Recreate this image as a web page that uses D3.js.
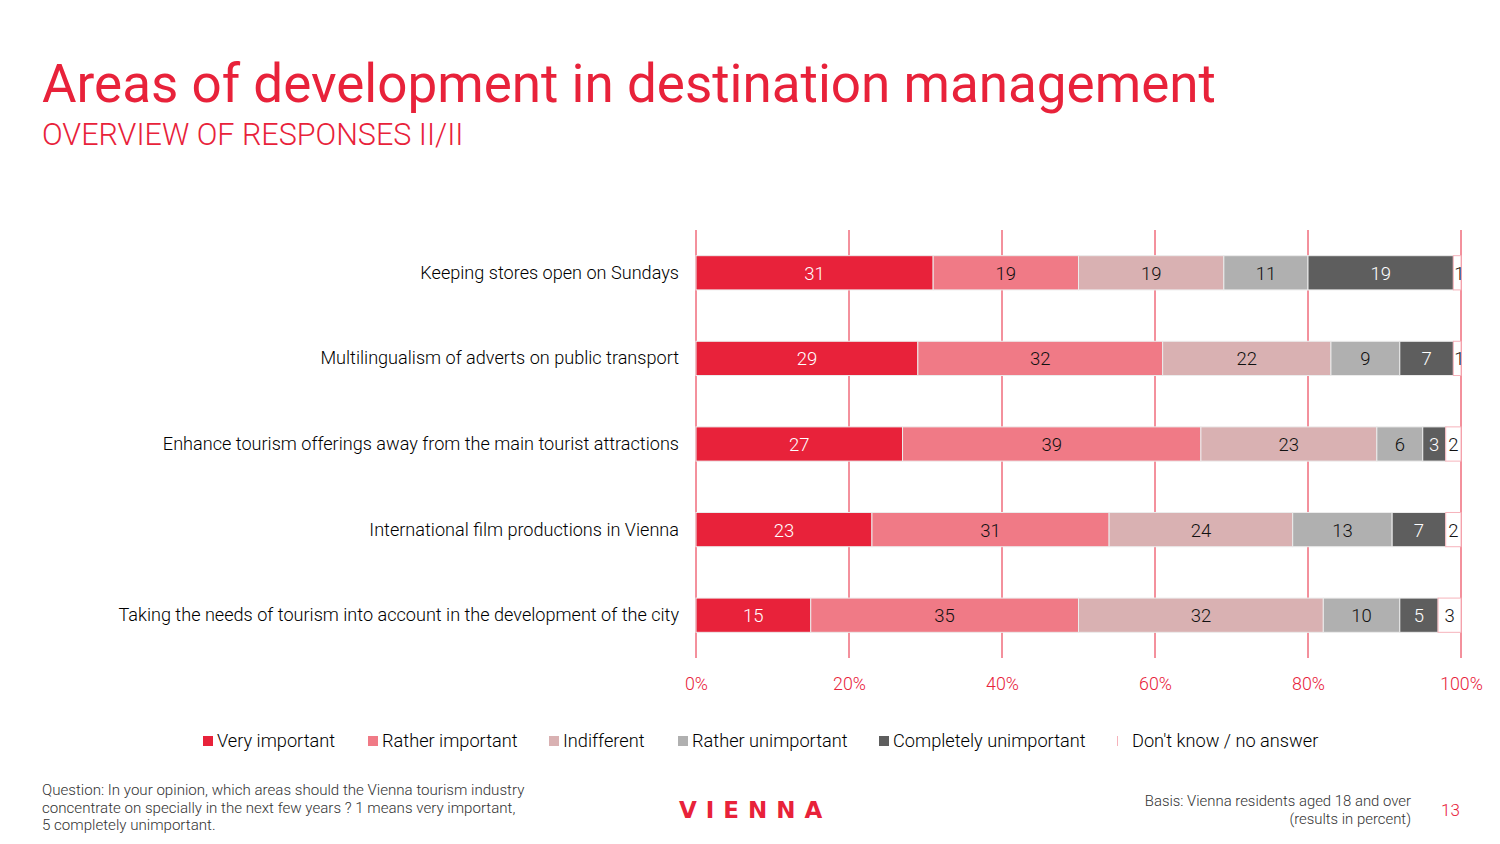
<!DOCTYPE html>
<html><head><meta charset="utf-8">
<script src="https://cdn.jsdelivr.net/npm/d3@7"></script>
<style>
body{margin:0;background:#fff;font-family:Roboto,"Noto Sans",sans-serif;}
svg{display:block}
svg text{font-weight:300;}
</style></head>
<body>
<svg id="c" width="1500" height="844"></svg>
<script>
const categories = [
  "Keeping stores open on Sundays",
  "Multilingualism of adverts on public transport",
  "Enhance tourism offerings away from the main tourist attractions",
  "International film productions in Vienna",
  "Taking the needs of tourism into account in the development of the city"
];
const seriesNames = ["Very important","Rather important","Indifferent","Rather unimportant","Completely unimportant","Don't know / no answer"];
const veryImportant = [31,29,27,23,15];
const ratherImportant = [19,32,39,31,35];
const indifferent = [19,22,23,24,32];
const ratherUnimportant = [11,9,6,13,10];
const completelyUnimportant = [19,7,3,7,5];
const dontKnow = [1,1,2,2,3];
const xTicks = [0,20,40,60,80,100];

const colors = ["#e8223a","#f07a86","#d9b1b2","#b0b0b0","#5e5e5e","#ffffff"];
const labelColors = ["#fff","#111","#111","#111","#fff","#111"];
const seriesValues = [veryImportant,ratherImportant,indifferent,ratherUnimportant,completelyUnimportant,dontKnow];

const svg = d3.select("#c");
const red = "#e8223a";

svg.append("text").attr("x",42).attr("y",102).attr("fill",red)
  .style("font-size","53px").style("font-weight","400").text("Areas of development in destination management");
svg.append("text").attr("x",42).attr("y",145).attr("fill",red)
  .style("font-size","30.5px").text("OVERVIEW OF RESPONSES II/II");

const x = d3.scaleLinear().domain([0,100]).range([696,1461]);
const y = d3.scaleBand().domain(categories).range([230,658]).paddingInner(0.6).paddingOuter(0.3);

// gridlines
svg.append("g").selectAll("line").data(xTicks).join("line")
  .attr("x1",d=>x(d)).attr("x2",d=>x(d)).attr("y1",230).attr("y2",658)
  .attr("stroke",red).attr("stroke-width",1);

// stack
const rows = categories.map((c,i)=>{const o={cat:c}; seriesNames.forEach((s,j)=>o[s]=seriesValues[j][i]); return o;});
const stack = d3.stack().keys(seriesNames)(rows);

const g = svg.append("g");
stack.forEach((layer,j)=>{
  const lg = g.append("g");
  lg.selectAll("rect").data(layer).join("rect")
    .attr("x",d=>x(d[0])).attr("width",d=>x(d[1])-x(d[0]))
    .attr("y",d=>y(d.data.cat)).attr("height",y.bandwidth())
    .attr("fill",colors[j])
    .attr("stroke", j===5 ? "#f6b3bb" : "#ececec").attr("stroke-width",1);
  lg.selectAll("text").data(layer).join("text")
    .attr("x",d=> (j===5 && (x(d[1])-x(d[0])) < 12) ? x(d[0])+1 : (x(d[0])+x(d[1]))/2)
    .attr("text-anchor",d=> (j===5 && (x(d[1])-x(d[0])) < 12) ? "start" : "middle")
    .attr("y",d=>y(d.data.cat)+y.bandwidth()/2+7)
    .attr("fill",labelColors[j])
    .style("font-size","18.5px")
    .text(d=>d.data[seriesNames[j]]);
});

// category labels
svg.append("g").selectAll("text").data(categories).join("text")
  .attr("x",679).attr("y",d=>y(d)+y.bandwidth()/2+6)
  .attr("text-anchor","end").attr("fill","#000").style("font-size","18.1px").text(d=>d);

// axis
const axis = svg.append("g").attr("transform","translate(0,658)")
  .call(d3.axisBottom(x).tickValues(xTicks).tickFormat(d=>d+"%").tickSize(0).tickPadding(19));
axis.select(".domain").remove();
axis.selectAll("text").attr("fill",red).style("font-size","17.8px").style("font-family","Roboto,sans-serif").style("font-weight","300");

// legend
const legX = [203,368,549,678,879,1117];
const leg = svg.append("g").selectAll("g").data(seriesNames).join("g")
  .attr("transform",(d,i)=>`translate(${legX[i]},741)`);
leg.append("rect").attr("x",0).attr("y",-5).attr("width",(d,i)=> i===5?1:10).attr("height",10)
  .attr("fill",(d,i)=> i===5 ? "#f6b3bb" : colors[i]);
leg.append("text").attr("x",(d,i)=> i===5 ? 15 : 14).attr("y",6).attr("fill","#000")
  .style("font-size","18.2px").text(d=>d);

// footer
const q = ["Question: In your opinion, which areas should the Vienna tourism industry",
  "concentrate on specially in the next few years ? 1 means very important,",
  "5 completely unimportant."];
svg.append("g").selectAll("text").data(q).join("text")
  .attr("x",42).attr("y",(d,i)=>795+i*17.5).attr("fill","#333").style("font-size","15.1px").text(d=>d);

svg.append("text").attr("x",679).attr("y",818).attr("fill",red)
  .style("font-size","23px").style("font-weight","700").style("letter-spacing","9px")
  .style("font-family","'DejaVu Sans',sans-serif").text("VIENNA");

const b = ["Basis: Vienna residents aged 18 and over","(results in percent)"];
svg.append("g").selectAll("text").data(b).join("text")
  .attr("x",1411).attr("y",(d,i)=>806+i*18).attr("text-anchor","end")
  .attr("fill","#333").style("font-size","14.9px").text(d=>d);
svg.append("text").attr("x",1441).attr("y",816).attr("fill",red).style("font-size","17px").text("13");
</script>
</body></html>
